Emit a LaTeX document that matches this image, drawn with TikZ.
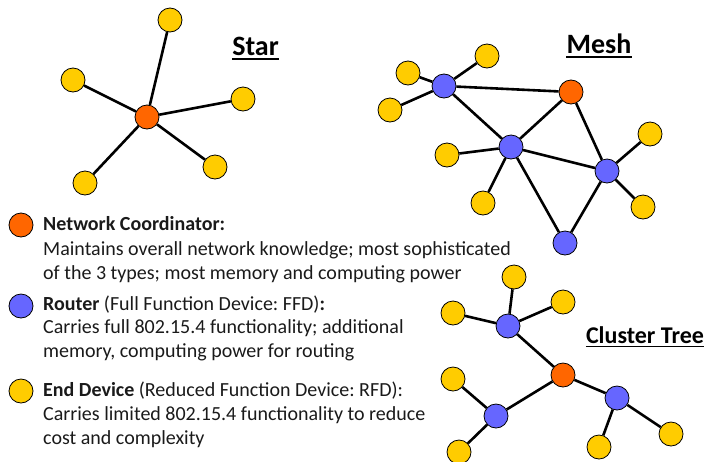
\documentclass[tikz,border=0pt]{standalone}
\usepackage{fontspec}
\setmainfont{Carlito}
\frenchspacing
\definecolor{coord}{HTML}{FF6600}
\definecolor{router}{HTML}{6666FF}
\definecolor{enddev}{HTML}{FFCC00}
\definecolor{txt}{HTML}{1A1A1A}
\begin{document}
\begin{tikzpicture}[x=1pt,y=-1pt,
  dev/.style={circle,draw=black,line width=0.8pt,minimum size=24pt,inner sep=0pt},
  co/.style={dev,fill=coord},
  ro/.style={dev,fill=router},
  ed/.style={dev,fill=enddev},
  link/.style={line width=2.6pt,black},
  title/.style={anchor=base,inner sep=0pt,font=\fontsize{28}{30}\selectfont\bfseries},
  uline/.style={line width=1.8pt},
  leg/.style={anchor=base west,inner sep=0pt,text=txt,font=\fontsize{20}{24}\selectfont}]
\useasboundingbox (0,0) rectangle (708,461);
% ---------- Star ----------
\node[co] (sc) at (147,117) {};
\node[ed] (s1) at (170,20) {};
\node[ed] (s2) at (73,80) {};
\node[ed] (s3) at (243,99) {};
\node[ed] (s4) at (215,167) {};
\node[ed] (s5) at (85,183) {};
\foreach \n in {s1,s2,s3,s4,s5} \draw[link] (sc) -- (\n);
\node[title] (tstar) at (255.5,55) {Star};
\draw[uline] ([yshift=-4]tstar.base west) -- ([yshift=-4]tstar.base east);
% ---------- Mesh ----------
\node[ro] (m1) at (444,86) {};
\node[ed] (m1a) at (487,56) {};
\node[ed] (m1b) at (408,73) {};
\node[ed] (m1c) at (390,110) {};
\node[co] (mo) at (571,92) {};
\node[ro] (m2) at (511,147) {};
\node[ed] (m2a) at (447,155) {};
\node[ed] (m2b) at (483,203) {};
\node[ro] (m3) at (607,171) {};
\node[ed] (m3a) at (650,134) {};
\node[ed] (m3b) at (643,207) {};
\node[ro] (m4) at (565,243) {};
\foreach \a/\b in {m1/m1a,m1/m1b,m1/m1c,m1/mo,m1/m2,mo/m2,mo/m3,m2/m2a,m2/m2b,m2/m3,m2/m4,m3/m3a,m3/m3b,m3/m4}
  \draw[link] (\a) -- (\b);
\node[title] (tmesh) at (599,53) {Mesh};
\draw[uline] ([yshift=-4]tmesh.base west) -- ([yshift=-4]tmesh.base east);
% ---------- Cluster Tree ----------
\node[co] (co) at (563,375) {};
\node[ro] (c1) at (508,326) {};
\node[ed] (c1a) at (514,277) {};
\node[ed] (c1b) at (453,313) {};
\node[ed] (c1c) at (563,302) {};
\node[ro] (c2) at (496,416) {};
\node[ed] (c2a) at (453,379) {};
\node[ed] (c2b) at (459,452) {};
\node[ro] (c3) at (617,398) {};
\node[ed] (c3a) at (599,447) {};
\node[ed] (c3b) at (671,434) {};
\foreach \a/\b in {co/c1,co/c2,co/c3,c1/c1a,c1/c1b,c1/c1c,c2/c2a,c2/c2b,c3/c3a,c3/c3b}
  \draw[link] (\a) -- (\b);
\node[title,font=\fontsize{24}{26}\selectfont\bfseries] (ttree) at (645,343) {Cluster Tree};
\draw[uline] ([yshift=-3.5]ttree.base west) -- ([yshift=-3.5]ttree.base east);
% ---------- Legend ----------
\node[co] (lc) at (21,225) {};
\node[ro] (lr) at (21,306) {};
\node[ed] (le) at (21,391) {};
\node[leg] (l1a) at (43,230) {\textbf{Network Coordinator:}};
\node[leg] (l1b) at (43,255) {Maintains overall network knowledge; most sophisticated};
\node[leg] (l1c) at (43,279) {of the 3 types; most memory and computing power};
\node[leg] (l2a) at (43,310) {\textbf{Router} (Full Function Device: FFD)\textbf{:}};
\node[leg] (l2b) at (43,333.5) {Carries full 802.15.4 functionality; additional};
\node[leg] (l2c) at (43,357) {memory, computing power for routing};
\node[leg] (l3a) at (43,396) {\textbf{End Device} (Reduced Function Device: RFD):};
\node[leg] (l3b) at (43,420) {Carries limited 802.15.4 functionality to reduce};
\node[leg] (l3c) at (43,444.5) {cost and complexity};
\end{tikzpicture}
\end{document}
